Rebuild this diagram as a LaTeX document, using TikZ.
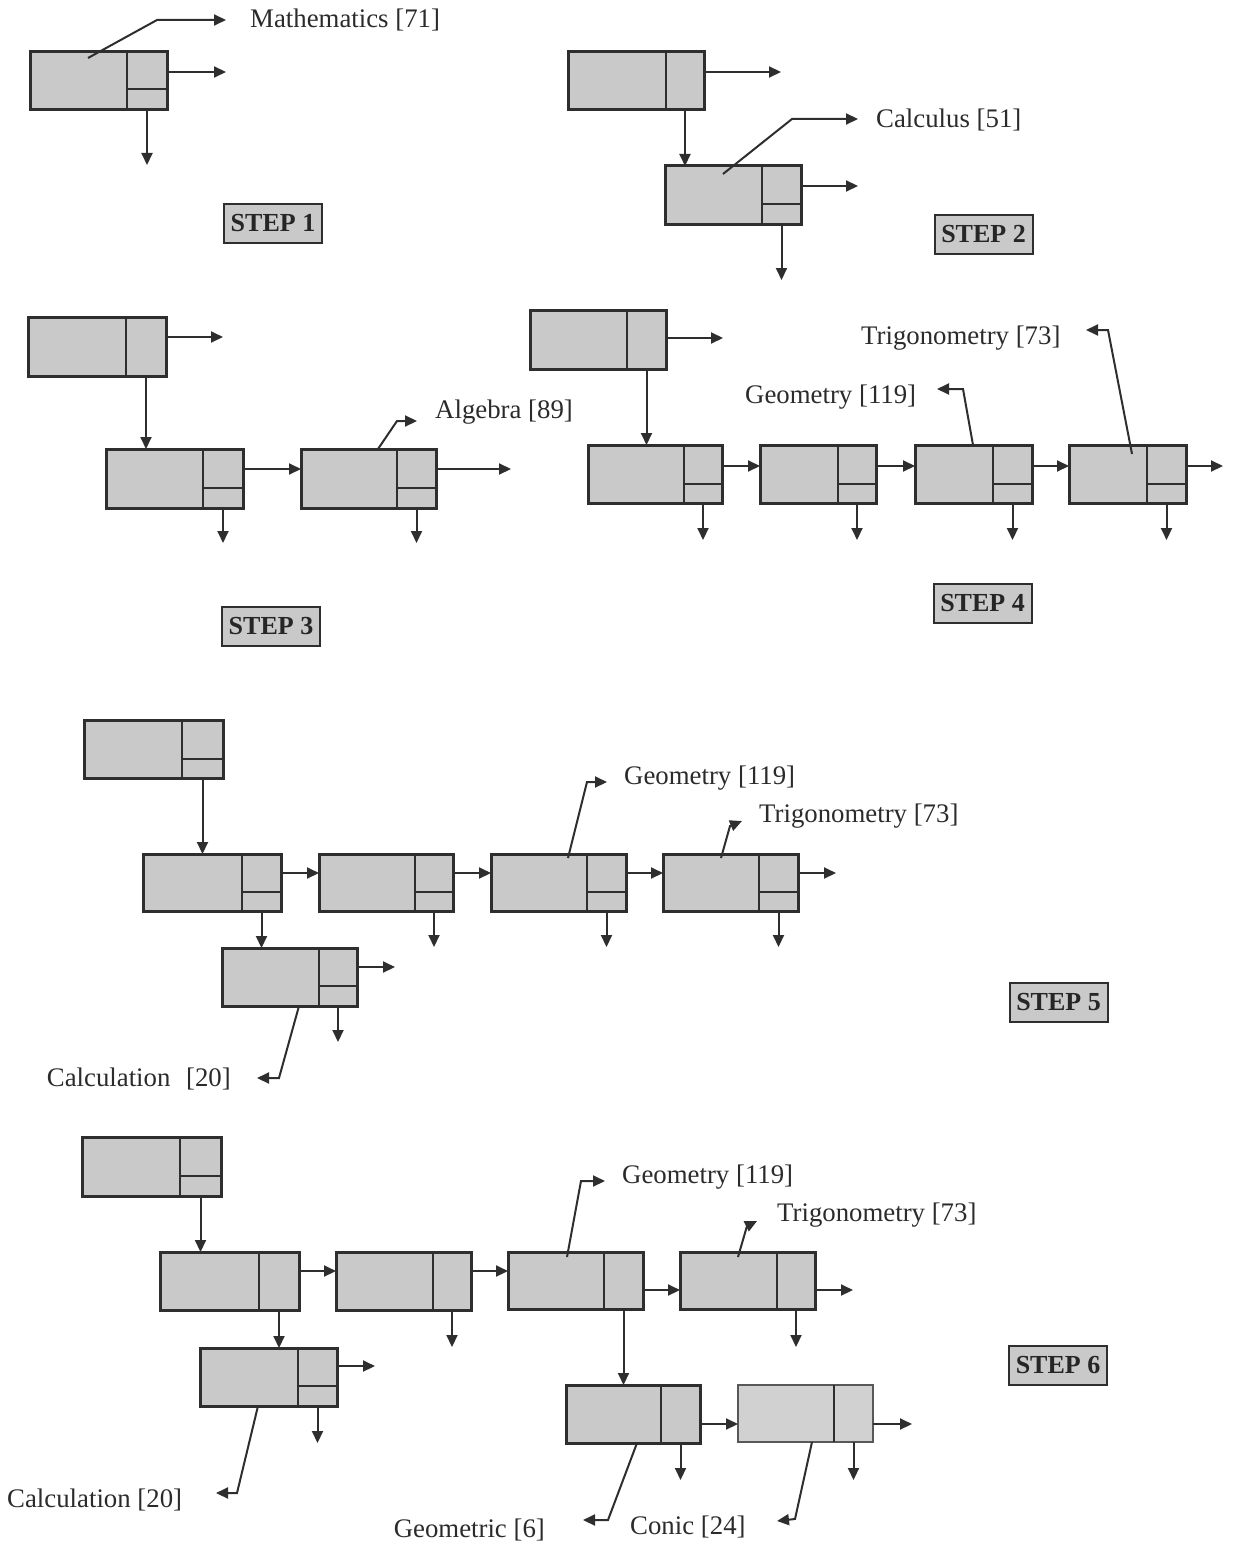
\documentclass[tikz,border=0pt]{standalone}
\usepackage{fontspec}
\setmainfont{Liberation Serif}
\usetikzlibrary{arrows.meta,calc}
\definecolor{edge}{HTML}{2E2E2E}
\definecolor{cellfill}{HTML}{C9C9C9}
\definecolor{txt}{HTML}{2B2B2B}
\tikzset{
  cellbox/.style={draw=edge, line width=3pt, fill=cellfill, inner sep=0pt, outer sep=0pt},
  thinbox/.style={draw=edge!80, line width=1.6pt, fill=cellfill!85, inner sep=0pt, outer sep=0pt},
  cellline/.style={draw=edge, line width=2.8pt},
  arr/.style={draw=edge, line width=2pt, -{Triangle[length=12pt,width=11pt]}},
  lead/.style={draw=edge, line width=2pt, line join=miter, -{Triangle[length=12pt,width=11pt]}},
  lbl/.style={inner sep=0pt, text=txt, font=\fontsize{26.8}{30}\selectfont},
  steplbl/.style={draw=edge, line width=2pt, fill=cellfill, minimum width=98pt, minimum height=39pt,
    inner sep=0pt, text=black!85, font=\bfseries\fontsize{26}{30}\selectfont}
}
\newcommand{\mycellw}{2.8pt}
% name, x1, y1, x2, y2, divider x, split y
\newcommand{\cellsplit}[8][cellbox]{%
  \node[#1, minimum width={(#5-#3)*1pt}, minimum height={(#6-#4)*1pt}] (#2) at ({(#3+#5)/2},{(#4+#6)/2}) {};
  \draw[cellline] (#7,#4) -- (#7,#6);
  \draw[cellline] (#7,#8) -- (#5,#8);
  \coordinate (#2-d) at ({(#7+#5)/2},#6);
}
% name, x1, y1, x2, y2, divider x
\newcommand{\cellplain}[7][cellbox]{%
  \node[#1, minimum width={(#5-#3)*1pt}, minimum height={(#6-#4)*1pt}] (#2) at ({(#3+#5)/2},{(#4+#6)/2}) {};
  \draw[cellline,line width=\mycellw] (#7,#4) -- (#7,#6);
  \coordinate (#2-d) at ({(#7+#5)/2},#6);
}
\begin{document}
\begin{tikzpicture}[x=1pt,y=-1pt]
\useasboundingbox (0,0) rectangle (1237,1557);

% ---------------- STEP 1
\cellsplit{s1a}{30}{52}{167}{110}{127}{89}
\draw[arr] ($(s1a.north east)+(0,20)$) -- ++(59,0);
\draw[arr] (s1a-d) -- ++(0,55);
\node[lbl, anchor=west] (t1) at (250,20) {Mathematics [71]};
\draw[lead] ($(s1a.north west)+(58,6)$) -- (157,20) -- (226,20);
\node[steplbl] (st1) at (273,223.5) {STEP 1};

% ---------------- STEP 2
\cellplain{s2a}{568}{52}{704}{110}{666}
\cellsplit{s2b}{665}{166}{801}{224}{762}{204}
\draw[arr] ($(s2a.north east)+(0,20)$) -- ++(77,0);
\draw[arr] (s2a-d) -- (s2a-d |- s2b.north);
\draw[arr] ($(s2b.north east)+(0,20)$) -- ++(57,0);
\draw[arr] (s2b-d) -- ++(0,56);
\node[lbl, anchor=west] (t2) at (876,120) {Calculus [51]};
\draw[lead] ($(s2b.north west)+(58,8)$) -- (792,119) -- (858,119);
\node[steplbl] (st2) at (983.5,234) {STEP 2};

% ---------------- STEP 3
\cellplain{s3a}{28}{317}{166}{376}{126}
\cellsplit{s3b}{106}{449}{243}{508}{203}{488}
\cellsplit{s3c}{301}{449}{436}{508}{397}{488}
\draw[arr] ($(s3a.north east)+(0,20)$) -- ++(57,0);
\draw[arr] (s3a-d) -- (s3a-d |- s3b.north);
\draw[arr] ($(s3b.north east)+(0,20)$) -- ($(s3c.north west)+(0,20)$);
\draw[arr] ($(s3c.north east)+(0,20)$) -- ++(75,0);
\draw[arr] (s3b-d) -- ++(0,35);
\draw[arr] (s3c-d) -- ++(0,35);
\node[lbl, anchor=west] (t3) at (435,412) {Algebra [89]};
\draw[lead] ($(s3c.north west)+(77,0)$) -- (397,421) -- (417,421);
\node[steplbl] (st3) at (271,626) {STEP 3};

% ---------------- STEP 4
\cellplain{s4a}{530}{310}{666}{369}{627}
\cellsplit{s4b}{588}{445}{722}{503}{684}{484}
\cellsplit{s4c}{760}{445}{876}{503}{838}{484}
\cellsplit{s4d}{915}{445}{1032}{503}{993}{484}
\cellsplit{s4e}{1069}{445}{1186}{503}{1147}{484}
\draw[arr] ($(s4a.north east)+(0,28)$) -- ++(57,0);
\draw[arr] (s4a-d) -- (s4a-d |- s4b.north);
\draw[arr] ($(s4b.north east)+(0,21)$) -- ($(s4c.north west)+(0,21)$);
\draw[arr] ($(s4c.north east)+(0,21)$) -- ($(s4d.north west)+(0,21)$);
\draw[arr] ($(s4d.north east)+(0,21)$) -- ($(s4e.north west)+(0,21)$);
\draw[arr] ($(s4e.north east)+(0,21)$) -- ++(37,0);
\draw[arr] (s4b-d) -- ++(0,37);
\draw[arr] (s4c-d) -- ++(0,37);
\draw[arr] (s4d-d) -- ++(0,37);
\draw[arr] (s4e-d) -- ++(0,37);
\node[lbl, anchor=west] (t4g) at (745,397) {Geometry [119]};
\node[lbl, anchor=west] (t4t) at (861,338) {Trigonometry [73]};
\draw[lead] ($(s4d.north west)+(58,0)$) -- (963,389) -- (937,389);
\draw[lead] ($(s4e.north west)+(63,9)$) -- (1108,330) -- (1086,330);
\node[steplbl] (st4) at (982.5,603) {STEP 4};

% ---------------- STEP 5
\cellsplit{s5a}{84}{720}{223}{778}{182}{759}
\cellsplit{s5b}{143}{854}{281}{911}{242}{892}
\cellsplit{s5c}{319}{854}{453}{911}{415}{892}
\cellsplit{s5d}{491}{854}{626}{911}{587}{892}
\cellsplit{s5e}{663}{854}{798}{911}{759}{892}
\cellsplit{s5f}{222}{948}{357}{1006}{319}{986}
\draw[arr] (s5a-d) -- (s5a-d |- s5b.north);
\draw[arr] ($(s5b.north east)+(0,19)$) -- ($(s5c.north west)+(0,19)$);
\draw[arr] ($(s5c.north east)+(0,19)$) -- ($(s5d.north west)+(0,19)$);
\draw[arr] ($(s5d.north east)+(0,19)$) -- ($(s5e.north west)+(0,19)$);
\draw[arr] ($(s5e.north east)+(0,19)$) -- ++(38,0);
\draw[arr] (s5b-d) -- (s5b-d |- s5f.north);
\draw[arr] (s5c-d) -- ++(0,36);
\draw[arr] (s5d-d) -- ++(0,36);
\draw[arr] (s5e-d) -- ++(0,36);
\draw[arr] ($(s5f.north east)+(0,19)$) -- ++(38,0);
\draw[arr] (s5f-d) -- ++(0,36);
\node[lbl, anchor=west] (t5g) at (624,778) {Geometry [119]};
\node[lbl, anchor=west] (t5t) at (759,816) {Trigonometry [73]};
\node[lbl, anchor=east] (t5c) at (231,1079) {Calculation\hspace{9pt} [20]};
\draw[lead] ($(s5d.north west)+(77,4)$) -- (587,782) -- (607,782);
\draw[lead] ($(s5e.north west)+(58,4)$) -- (730,826) -- (742,821);
\draw[lead] ($(s5f.south west)+(77,0)$) -- (279,1078) -- (257,1078);
\node[steplbl] (st5) at (1058.5,1002) {STEP 5};

% ---------------- STEP 6
\cellsplit{s6a}{82}{1137}{221}{1196}{180}{1176}
\cellplain{s6b}{160}{1252}{299}{1310}{259}
\cellplain{s6c}{336}{1252}{471}{1310}{433}
\cellplain{s6d}{508}{1252}{643}{1309}{604}
\cellplain{s6e}{680}{1252}{815}{1309}{777}
\cellsplit{s6f}{200}{1348}{337}{1406}{298}{1386}
\cellplain{s6g}{566}{1385}{700}{1443}{661}
\renewcommand{\mycellw}{1.6pt}
\cellplain[thinbox]{s6h}{738}{1385}{873}{1442}{834}
\renewcommand{\mycellw}{2.8pt}
\draw[arr] (s6a-d) -- (s6a-d |- s6b.north);
\draw[arr] ($(s6b.north east)+(0,19)$) -- ($(s6c.north west)+(0,19)$);
\draw[arr] ($(s6c.north east)+(0,19)$) -- ($(s6d.north west)+(0,19)$);
\draw[arr] ($(s6d.north east)+(0,38)$) -- ($(s6e.north west)+(0,38)$);
\draw[arr] ($(s6e.north east)+(0,38)$) -- ++(38,0);
\draw[arr] (s6b-d) -- (s6b-d |- s6f.north);
\draw[arr] (s6c-d) -- ++(0,37);
\draw[arr] (s6d-d) -- (s6d-d |- s6g.north);
\draw[arr] (s6e-d) -- ++(0,38);
\draw[arr] ($(s6f.north east)+(0,18)$) -- ++(38,0);
\draw[arr] (s6f-d) -- ++(0,37);
\draw[arr] ($(s6g.north east)+(0,39)$) -- ($(s6h.north west)+(0,39)$);
\draw[arr] ($(s6h.north east)+(0,39)$) -- ++(39,0);
\draw[arr] (s6g-d) -- ++(0,37);
\draw[arr] (s6h-d) -- ++(0,38);
\node[lbl, anchor=west] (t6g) at (622,1177) {Geometry [119]};
\node[lbl, anchor=west] (t6t) at (777,1215) {Trigonometry [73]};
\node[lbl, anchor=west] (t6c) at (7,1500) {Calculation [20]};
\node[lbl, anchor=east] (t6m) at (545,1530) {Geometric [6]};
\node[lbl, anchor=west] (t6n) at (630,1527) {Conic [24]};
\draw[lead] ($(s6d.north west)+(59,5)$) -- (581,1181) -- (605,1181);
\draw[lead] ($(s6e.north west)+(58,5)$) -- (747,1226) -- (757,1221);
\draw[lead] ($(s6f.south west)+(58,0)$) -- (237,1493) -- (216,1493);
\draw[lead] ($(s6g.south west)+(71,0)$) -- (608,1520) -- (583,1520);
\draw[lead] ($(s6h.south west)+(74,0)$) -- (795,1519) -- (777,1521);
\node[steplbl] (st6) at (1058,1365.5) {STEP 6};
\end{tikzpicture}
\end{document}
